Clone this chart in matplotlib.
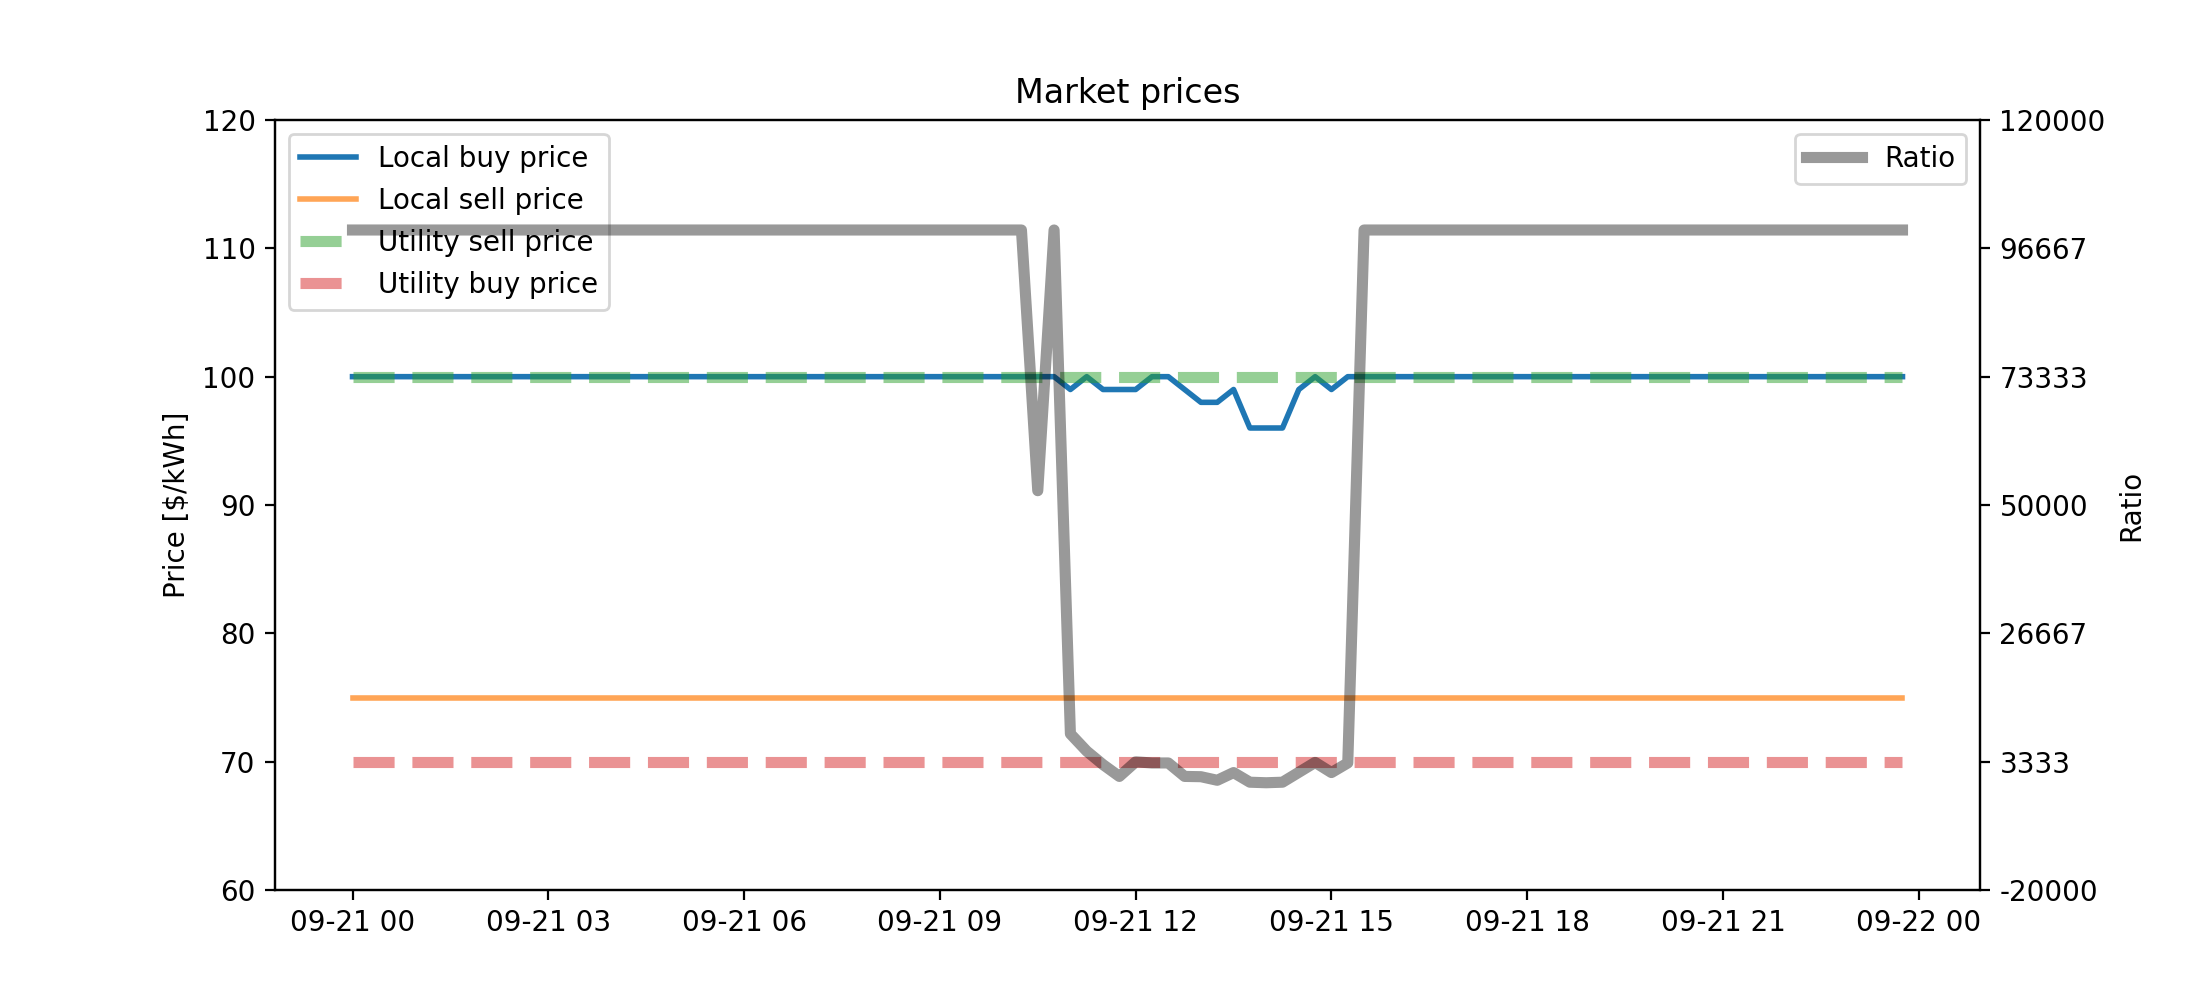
import numpy as np
import pandas as pd
import matplotlib
matplotlib.use("Agg")
import matplotlib.pyplot as plt
import matplotlib.dates as mdates

times = pd.date_range("2023-09-21 00:00", periods=96, freq="15min")

# deviations from the flat values, keyed by quarter-hour index
buy_dip = {43: 100, 44: 99, 45: 100, 46: 99, 47: 99, 48: 99, 49: 100, 50: 100,
           51: 99, 52: 98, 53: 98, 54: 99, 55: 96, 56: 96, 57: 96, 58: 99,
           59: 100, 60: 99, 61: 100}
ratio_dip = {42: 52600, 43: 100000, 44: 8400, 45: 5250, 46: 2800, 47: 650,
             48: 3300, 49: 3100, 50: 3100, 51: 650, 52: 600, 53: -50, 54: 1350,
             55: -400, 56: -500, 57: -400, 58: 1400, 59: 3200, 60: 1350, 61: 3100}

local_buy = [buy_dip.get(i, 100) for i in range(96)]
local_sell = [75] * 96
utility_sell = [100] * 96
utility_buy = [70] * 96
ratio = [ratio_dip.get(i, 100000) for i in range(96)]

fig, ax = plt.subplots(figsize=(11, 5), dpi=200)
ax.plot(times, local_buy, color="tab:blue", lw=2, label="Local buy price")
ax.plot(times, local_sell, color="tab:orange", lw=2, alpha=0.7, label="Local sell price")
ax.plot(times, utility_sell, color="tab:green", lw=4, ls="--", alpha=0.5, label="Utility sell price")
ax.plot(times, utility_buy, color="tab:red", lw=4, ls="--", alpha=0.5, label="Utility buy price")
ax.set_ylim(60, 120)
ax.set_ylabel("Price [$/kWh]")
ax.set_title("Market prices")
ax.legend(loc="upper left")
ax.xaxis.set_major_locator(mdates.HourLocator(byhour=range(0, 24, 3)))
ax.xaxis.set_major_formatter(mdates.DateFormatter("%m-%d %H"))

ax2 = ax.twinx()
ax2.plot(times, ratio, color="black", lw=4, alpha=0.4, label="Ratio")
ax2.set_ylim(-20000, 120000)
ax2.set_yticks(np.linspace(-20000, 120000, 7))
ax2.set_yticklabels([f"{v:.0f}" for v in np.linspace(-20000, 120000, 7)])
ax2.set_ylabel("Ratio")
ax2.legend(loc="upper right")

fig.savefig("out.png")
